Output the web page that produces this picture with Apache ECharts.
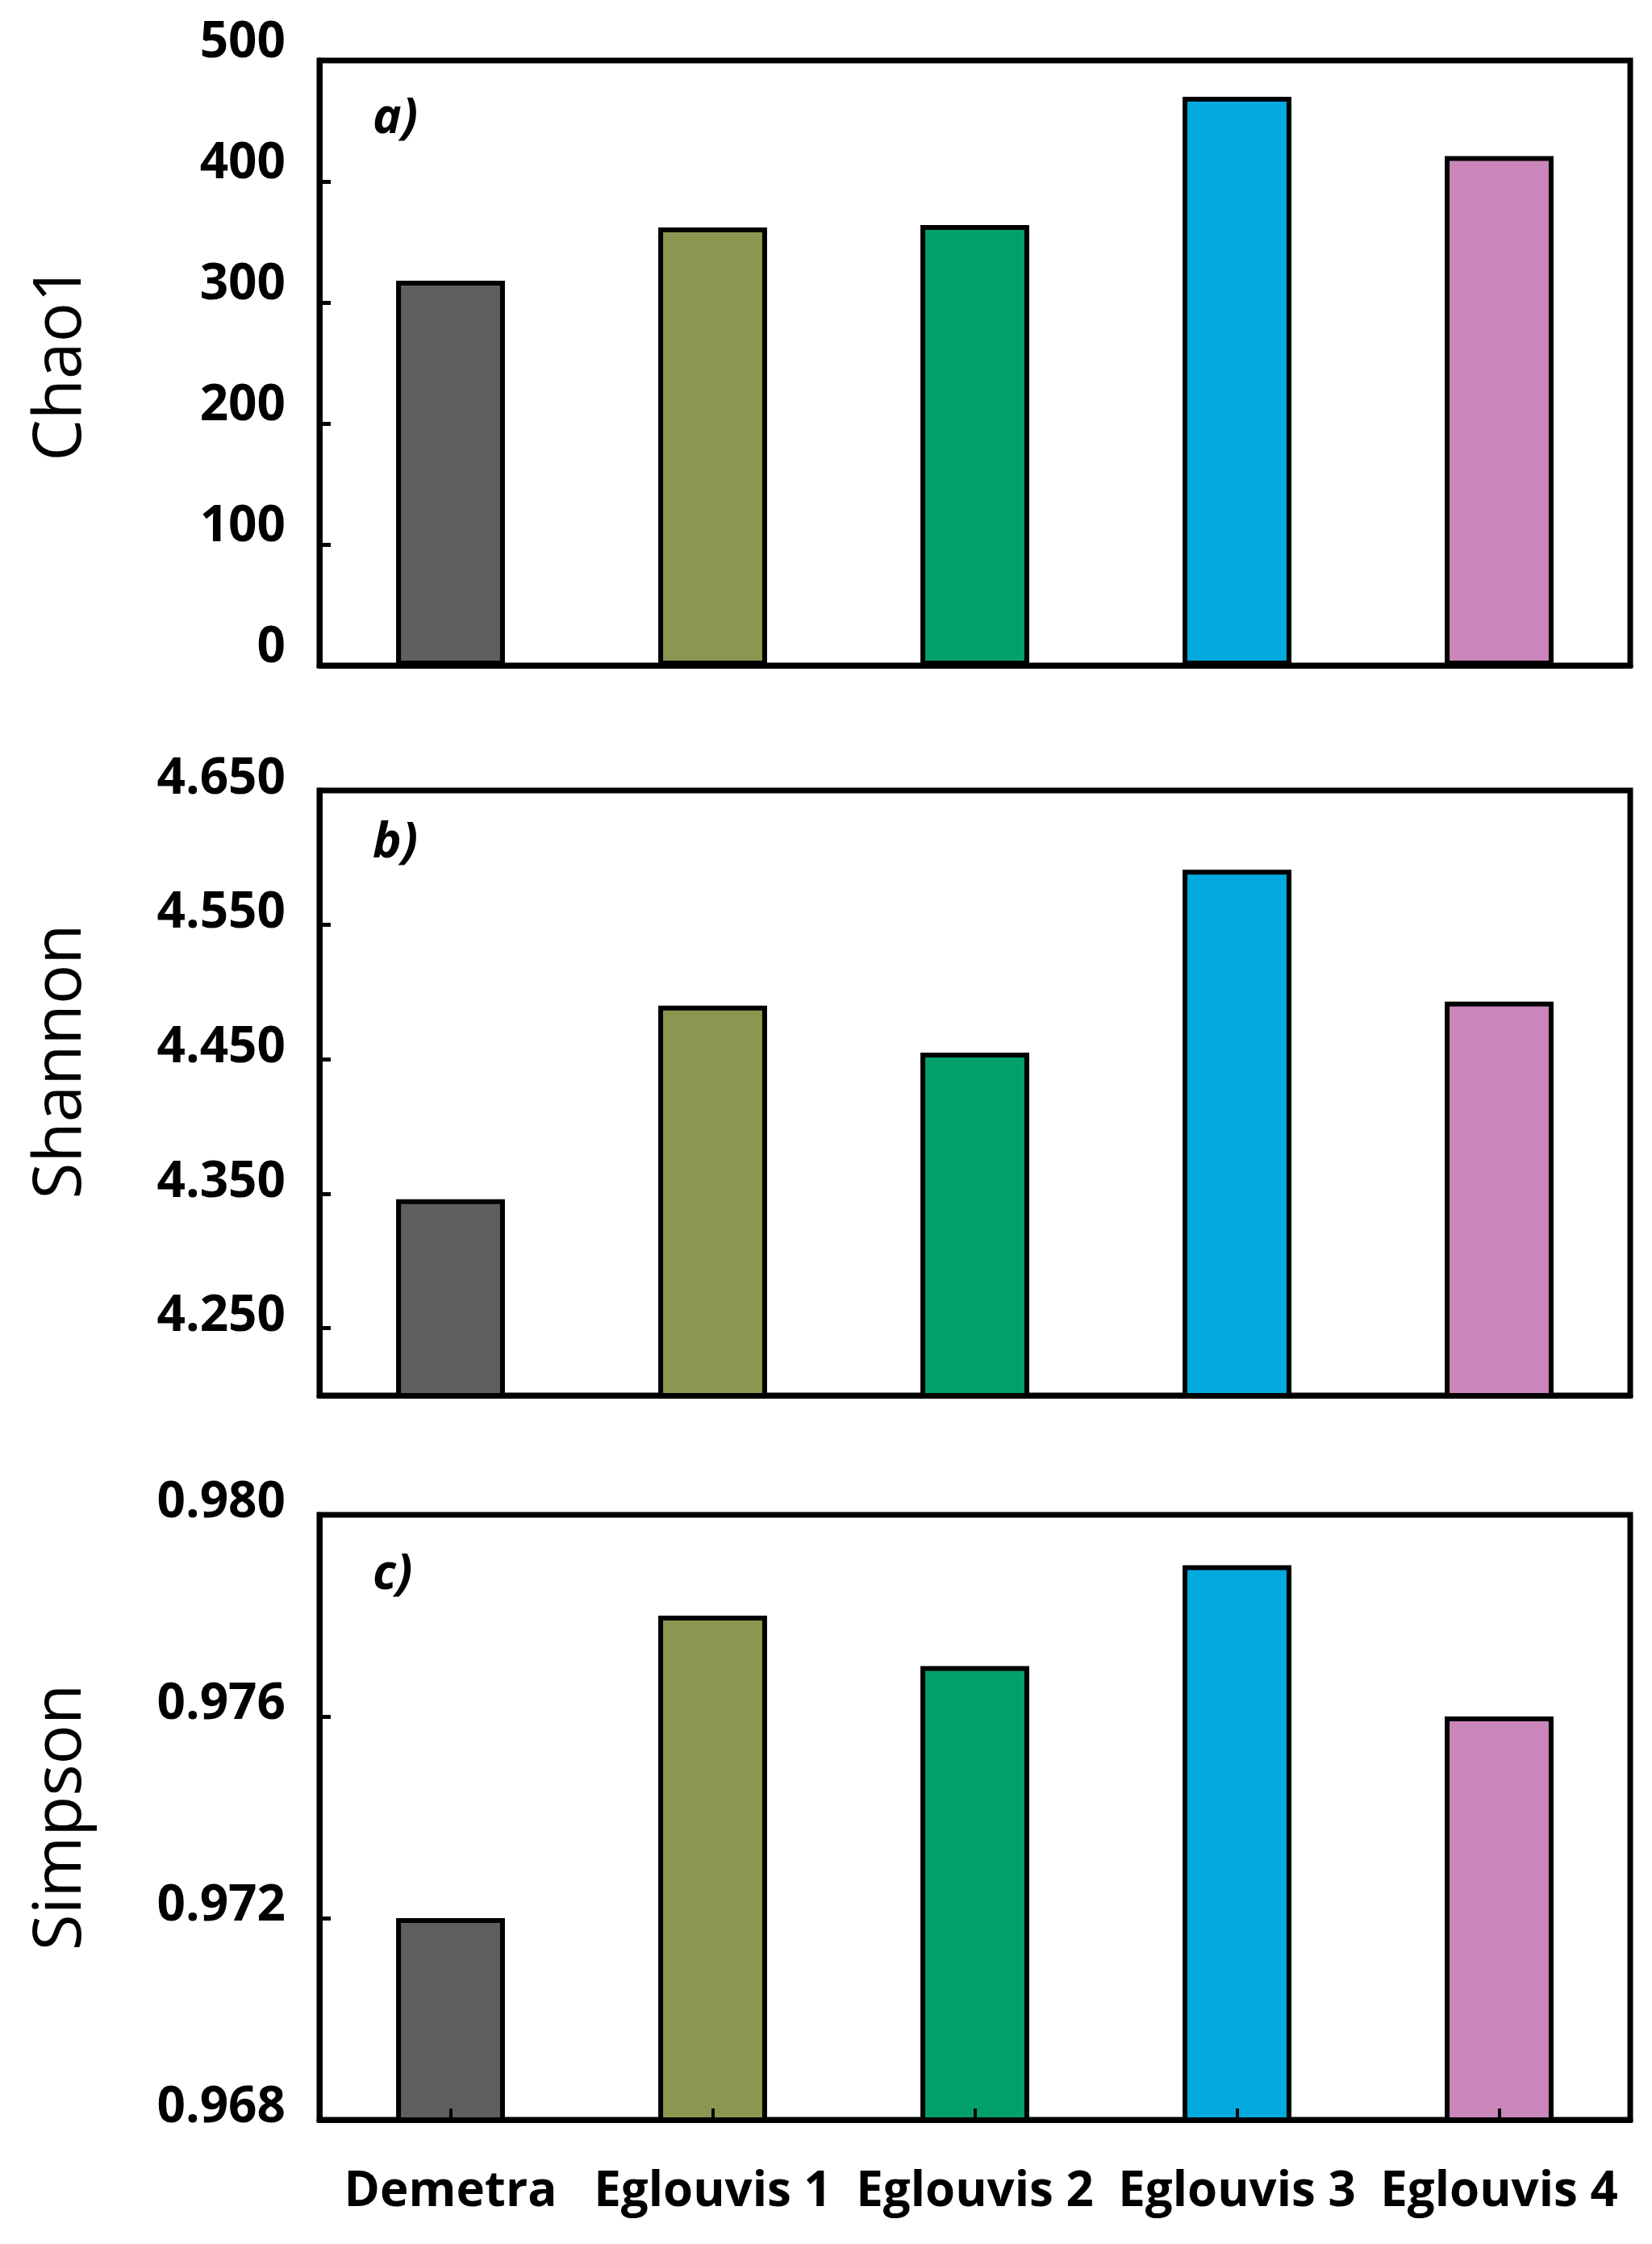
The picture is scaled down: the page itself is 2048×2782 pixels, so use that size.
<!DOCTYPE html>
<html><head><meta charset="utf-8">
<script src="https://cdn.jsdelivr.net/npm/echarts@6/dist/echarts.min.js"></script>
<style>html,body{margin:0;padding:0;background:#fff}#c{width:2048px;height:2782px}</style>
</head><body><div id="c"></div>
<script>
const categories = ['Demetra', 'Eglouvis 1', 'Eglouvis 2', 'Eglouvis 3', 'Eglouvis 4'];
const chao1 = [318, 362, 364, 470, 421];
const shannon = [4.346, 4.490, 4.455, 4.591, 4.493];
const simpson = [0.972, 0.978, 0.977, 0.979, 0.976];
const barColors = ['#5e605f', '#8d9651', '#02a16c', '#02a9df', '#ca86bb'];
const chaoTicks = [0, 100, 200, 300, 400, 500];
const shannonTicks = [4.25, 4.35, 4.45, 4.55, 4.65];
const simpsonTicks = [0.968, 0.972, 0.976, 0.980];
const panelLabels = ['a)', 'b)', 'c)'];
const axisNames = ['Chao1', 'Shannon', 'Simpson'];

const FONT = 'Open Sans';
const gridTops = [75, 980, 1878];
const labelTops = [118, 1016, 1923];
const seriesData = [chao1, shannon, simpson];
const axisCfg = [
  {min: 0, max: 500, ticks: chaoTicks, fmt: v => String(Math.round(v)), off: 22, namePad: 0},
  {min: 4.2, max: 4.65, ticks: shannonTicks, fmt: v => v.toFixed(3), off: 14, namePad: 78},
  {min: 0.968, max: 0.980, ticks: simpsonTicks, fmt: v => v.toFixed(3), off: 15, namePad: 0}
];

const chart = echarts.init(document.getElementById('c'), null, {renderer: 'canvas'});
const option = {
  backgroundColor: '#fff',
  animation: false,
  title: panelLabels.map((t, i) => ({
    text: t, left: 462, top: labelTops[i], padding: 0,
    textStyle: {fontFamily: FONT, fontStyle: 'italic', fontWeight: 'bold', fontSize: 60, color: '#000'}
  })),
  grid: gridTops.map(t => ({
    left: 396, right: 27, top: t, height: 750, show: true,
    borderColor: '#000', borderWidth: 7, backgroundColor: 'transparent'
  })),
  xAxis: gridTops.map((t, i) => ({
    type: 'category', gridIndex: i, data: categories, z: 5,
    axisLine: {show: true, lineStyle: {color: '#000', width: 7}},
    axisTick: {show: i === 2, inside: true, alignWithLabel: true, length: 14, lineStyle: {color: '#000', width: 4}},
    axisLabel: {show: i === 2, interval: 0, margin: 60, color: '#000', fontFamily: FONT, fontWeight: 'bold', fontSize: 60}
  })),
  yAxis: axisCfg.map((c, i) => ({
    type: 'value', gridIndex: i, min: c.min, max: c.max,
    name: axisNames[i], nameLocation: 'middle', nameGap: 278,
    nameTextStyle: {fontFamily: FONT, fontSize: 82, color: '#000', padding: [0, 0, 0, c.namePad]},
    axisLine: {show: true, lineStyle: {color: '#000', width: 7}},
    axisTick: {show: true, inside: true, length: 14, customValues: c.ticks, lineStyle: {color: '#000', width: 5}},
    splitLine: {show: false},
    axisLabel: {
      show: true, customValues: c.ticks, margin: 42, color: '#000',
      fontFamily: FONT, fontWeight: 'bold', fontSize: 62,
      verticalAlign: 'bottom', lineHeight: c.off * 2,
      formatter: c.fmt
    }
  })),
  series: seriesData.map((d, i) => ({
    type: 'bar', xAxisIndex: i, yAxisIndex: i, barWidth: '41.5%',
    data: d.map((v, k) => ({value: v, itemStyle: {color: barColors[k]}})),
    itemStyle: {borderColor: '#000', borderWidth: 6}
  }))
};
chart.setOption(option);
</script>
</body></html>
